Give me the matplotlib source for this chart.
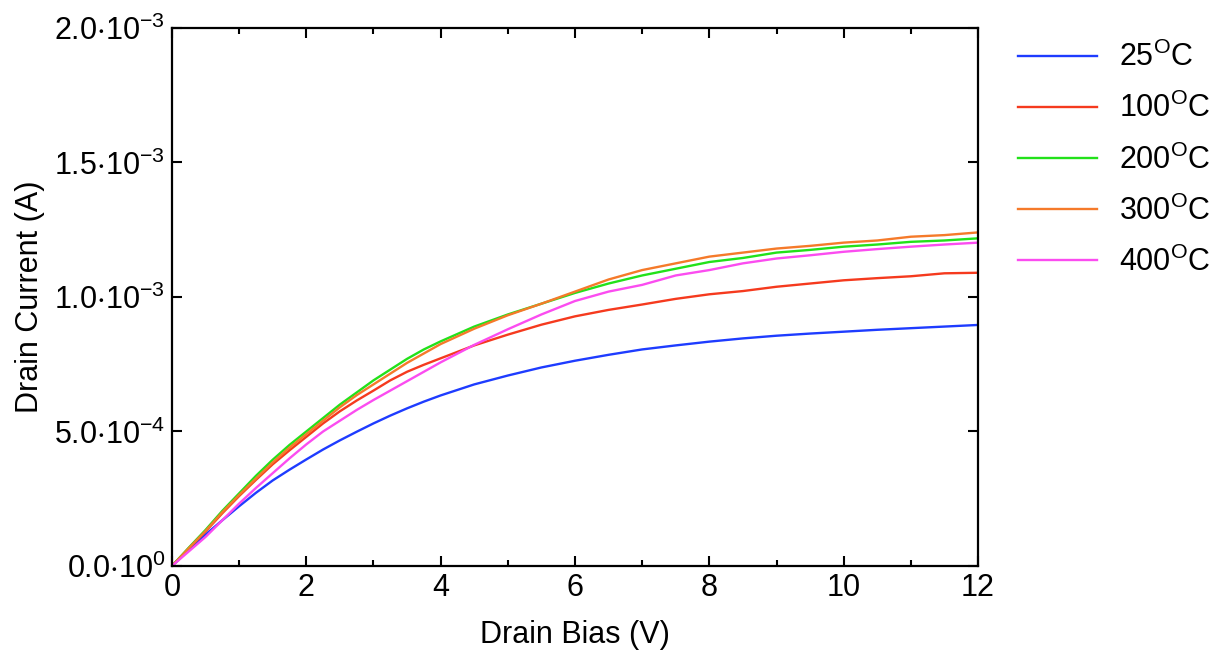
import matplotlib
matplotlib.use("Agg")
import matplotlib.pyplot as plt
from matplotlib.ticker import MultipleLocator, FixedLocator

plt.rcParams['font.family'] = ['Liberation Sans', 'DejaVu Sans']
plt.rcParams['mathtext.default'] = 'regular'

# drain bias (V)
bias = [0, 0.25, 0.5, 0.75, 1, 1.25, 1.5, 1.75, 2, 2.25, 2.5, 2.75, 3, 3.25, 3.5, 3.75, 4,
        4.5, 5, 5.5, 6, 6.5, 7, 7.5, 8, 8.5, 9, 9.5, 10, 10.5, 11, 11.5, 12]

# drain current (mA) for each temperature
i_25 = [0, 0.06, 0.117, 0.17, 0.222, 0.272, 0.318, 0.358, 0.396, 0.433, 0.467, 0.499, 0.53,
        0.559, 0.586, 0.611, 0.634,
        0.675, 0.708, 0.738, 0.763, 0.785, 0.805, 0.82, 0.834, 0.846, 0.856, 0.864, 0.871,
        0.878, 0.884, 0.89, 0.896]
i_100 = [0, 0.065, 0.128, 0.196, 0.26, 0.32, 0.378, 0.43, 0.48, 0.53, 0.575, 0.615, 0.652,
         0.69, 0.722, 0.748, 0.772,
         0.82, 0.86, 0.897, 0.928, 0.952, 0.972, 0.993, 1.01, 1.022, 1.038, 1.05, 1.062,
         1.07, 1.077, 1.088, 1.09]
i_200 = [0, 0.068, 0.134, 0.205, 0.27, 0.335, 0.395, 0.45, 0.50, 0.55, 0.60, 0.645, 0.69,
         0.73, 0.77, 0.805, 0.835,
         0.89, 0.935, 0.975, 1.015, 1.05, 1.08, 1.105, 1.13, 1.145, 1.165, 1.175, 1.187,
         1.195, 1.205, 1.21, 1.218]
i_300 = [0, 0.066, 0.13, 0.2, 0.264, 0.325, 0.385, 0.44, 0.49, 0.54, 0.59, 0.635, 0.675,
         0.715, 0.755, 0.79, 0.825,
         0.882, 0.932, 0.975, 1.02, 1.065, 1.10, 1.125, 1.15, 1.165, 1.18, 1.19, 1.202,
         1.21, 1.224, 1.23, 1.24]
i_400 = [0, 0.054, 0.108, 0.17, 0.232, 0.29, 0.345, 0.40, 0.452, 0.50, 0.54, 0.58, 0.617,
         0.652, 0.687, 0.722, 0.757,
         0.822, 0.88, 0.935, 0.985, 1.02, 1.045, 1.08, 1.10, 1.125, 1.143, 1.155, 1.168,
         1.178, 1.187, 1.195, 1.202]

labels = ['25$^O$C', '100$^O$C', '200$^O$C', '300$^O$C', '400$^O$C']
colors = ['#1e3cff', '#f53a1e', '#22e11a', '#f57a2a', '#fb4cf0']

ytick_vals = [0, 0.5e-3, 1.0e-3, 1.5e-3, 2.0e-3]
ytick_labels = ['0.0$\\cdot$10$^0$', '5.0$\\cdot$10$^{-4}$', '1.0$\\cdot$10$^{-3}$',
                '1.5$\\cdot$10$^{-3}$', '2.0$\\cdot$10$^{-3}$']

fs = 22

fig = plt.figure(figsize=(12.23, 6.55), dpi=100)
ax = fig.add_axes([0.1406, 0.1359, 0.6591, 0.8214])

for cur, lab, col in zip([i_25, i_100, i_200, i_300, i_400], labels, colors):
    ax.plot(bias, [c * 1e-3 for c in cur], color=col, lw=1.7, label=lab)

ax.set_xlim(0, 12)
ax.set_ylim(0, 2.0e-3)
ax.xaxis.set_major_locator(MultipleLocator(2))
ax.xaxis.set_minor_locator(MultipleLocator(1))
ax.yaxis.set_major_locator(FixedLocator(ytick_vals))
ax.set_yticklabels(ytick_labels)

ax.tick_params(which='both', direction='in', top=True, right=True,
               labelsize=fs, width=1.5, pad=5)
ax.tick_params(which='major', length=7)
ax.tick_params(which='minor', length=4)
for s in ax.spines.values():
    s.set_linewidth(1.6)

ax.set_xlabel('Drain Bias (V)', fontsize=fs, labelpad=12)
ax.set_ylabel('Drain Current (A)', fontsize=fs)
ax.yaxis.set_label_coords(-0.158, 0.5)

ax.legend(loc='upper left', bbox_to_anchor=(0.8324, 0.936), bbox_transform=fig.transFigure,
          frameon=False, fontsize=fs, handlelength=2.6, handletextpad=0.7,
          labelspacing=0.65, borderpad=0, borderaxespad=0)

fig.savefig('out.png', dpi=100)
